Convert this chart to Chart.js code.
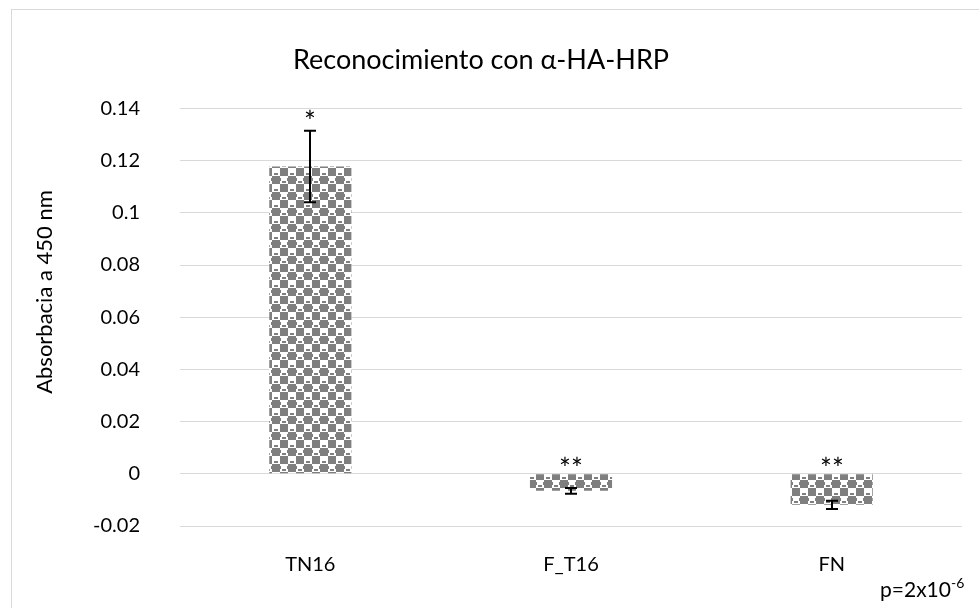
<!DOCTYPE html>
<html>
<head>
<meta charset="utf-8">
<title>Reconocimiento con α-HA-HRP</title>
<script src="https://cdn.jsdelivr.net/npm/chart.js"></script>
<style>
  html, body { margin: 0; padding: 0; background: #fff; }
  #wrap { position: relative; width: 979px; height: 608px; overflow: hidden; }
  #frame { position: absolute; left: 11px; top: 9px; width: 1000px; height: 640px;
           border-left: 1px solid #d9d9d9; border-top: 1px solid #d9d9d9; }
  #chart { position: absolute; left: 0; top: 0; }
</style>
</head>
<body>
<div id="wrap">
  <div id="frame"></div>
  <canvas id="chart" width="979" height="608"></canvas>
</div>
<script>
const FONT = 'Lato, "Noto Sans", sans-serif';

const categories = ['TN16', 'F_T16', 'FN'];
const absorbance = [0.1177, -0.0065, -0.0119];
const stdErr = [0.0137, 0.0011, 0.0016];
const significance = ['*', '**', '**'];
const yTickLabels = ['-0.02', '0', '0.02', '0.04', '0.06', '0.08', '0.1', '0.12', '0.14'];

// grey checker fill like the office "sphere" pattern
function makeChecker() {
  const c = document.createElement('canvas');
  c.width = 16; c.height = 16;
  const g = c.getContext('2d');
  g.fillStyle = '#ffffff';
  g.fillRect(0, 0, 16, 16);
  g.fillStyle = '#7f7f7f';
  g.fillRect(0, 0, 8, 8);
  g.fillRect(8, 8, 8, 8);
  g.fillRect(10, 5, 4, 2);
  g.fillRect(2, 13, 4, 2);
  g.fillRect(8, 2, 1, 3);
  g.fillRect(15, 2, 1, 3);
  return g.createPattern(c, 'repeat');
}

const errorBars = {
  id: 'errorBars',
  afterDatasetsDraw(chart) {
    const { ctx, scales: { y } } = chart;
    const bars = chart.getDatasetMeta(0).data;
    ctx.save();
    ctx.strokeStyle = '#000';
    ctx.lineWidth = 2;
    ctx.fillStyle = '#000';
    ctx.font = '28px ' + FONT;
    ctx.textAlign = 'center';
    ctx.textBaseline = 'alphabetic';
    bars.forEach((bar, i) => {
      const x = Math.round(bar.x);
      const top = y.getPixelForValue(absorbance[i] + stdErr[i]);
      const bot = y.getPixelForValue(absorbance[i] - stdErr[i]);
      ctx.beginPath();
      ctx.moveTo(x, top); ctx.lineTo(x, bot);
      ctx.moveTo(x - 6, top); ctx.lineTo(x + 6, top);
      ctx.moveTo(x - 6, bot); ctx.lineTo(x + 6, bot);
      ctx.stroke();
      const labelY = absorbance[i] >= 0 ? top + 1 : y.getPixelForValue(0) + 5;
      ctx.fillText(significance[i], x, labelY);
    });
    ctx.restore();
  }
};

const extraText = {
  id: 'extraText',
  afterDraw(chart) {
    const { ctx } = chart;
    ctx.save();
    ctx.fillStyle = '#000';
    // y axis caption
    ctx.translate(45, 292);
    ctx.rotate(-Math.PI / 2);
    ctx.font = '22px ' + FONT;
    ctx.textAlign = 'center';
    ctx.textBaseline = 'middle';
    ctx.fillText('Absorbacia a 450 nm', 0, 0);
    ctx.restore();

    ctx.save();
    ctx.fillStyle = '#000';
    ctx.font = '21px ' + FONT;
    ctx.textBaseline = 'alphabetic';
    ctx.textAlign = 'left';
    const base = 'p=2x10';
    ctx.fillText(base, 880, 597);
    const w = ctx.measureText(base).width;
    ctx.font = '14px ' + FONT;
    ctx.fillText('-6', 880 + w, 588);
    ctx.restore();
  }
};

new Chart(document.getElementById('chart'), {
  type: 'bar',
  data: {
    labels: categories,
    datasets: [{
      data: absorbance,
      backgroundColor: makeChecker(),
      borderWidth: 0,
      barPercentage: 0.315,
      categoryPercentage: 1
    }]
  },
  options: {
    responsive: false,
    animation: false,
    layout: { padding: { left: 0, right: 17, top: 0, bottom: 0 } },
    plugins: {
      legend: { display: false },
      tooltip: { enabled: false },
      title: {
        display: true,
        text: 'Reconocimiento con α-HA-HRP',
        color: '#000',
        font: { family: FONT, size: 27, weight: 'normal', lineHeight: 1.2 },
        padding: { top: 44, bottom: 32 }
      }
    },
    scales: {
      x: {
        grid: { display: false },
        border: { display: false },
        ticks: { color: '#000', font: { family: FONT, size: 20 }, padding: 19 },
        afterFit: s => { s.height = 82; }
      },
      y: {
        min: -0.02,
        max: 0.14,
        ticks: {
          stepSize: 0.02,
          color: '#000',
          font: { family: FONT, size: 20 },
          padding: 40,
          callback: (v, i) => yTickLabels[i]
        },
        grid: { color: '#d9d9d9', lineWidth: 1, drawTicks: false },
        border: { display: false },
        afterFit: s => { s.width = 180; }
      }
    }
  },
  plugins: [errorBars, extraText]
});
</script>
</body>
</html>
